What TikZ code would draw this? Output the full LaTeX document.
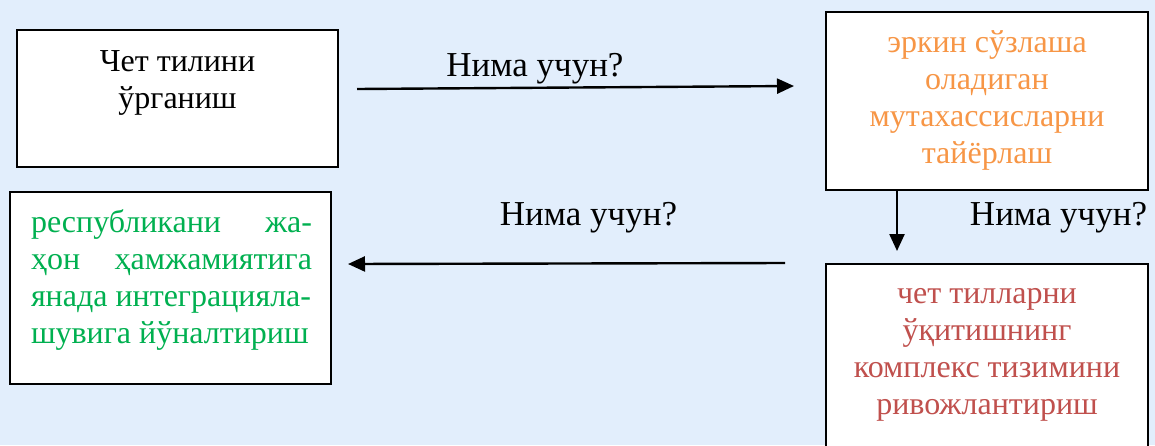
\documentclass[tikz,border=0pt]{standalone}
\usepackage{fontspec}
\setmainfont{Liberation Serif}
\usetikzlibrary{arrows.meta}

\definecolor{bgblue}{RGB}{226, 238, 252}
\definecolor{aimorange}{RGB}{247, 150, 70}
\definecolor{aimgreen}{RGB}{0, 176, 80}
\definecolor{aimred}{RGB}{192, 80, 77}

\newcommand{\boxfont}{\fontsize{32}{37}\selectfont}
\newcommand{\whyfont}{\fontsize{35}{40}\selectfont}

\tikzset{
	box/.style = {draw = black, line width = 2pt, fill = white, inner sep = 0pt},
	boxtext/.style = {anchor = north, align = center, inner sep = 0pt, font = \boxfont},
	why/.style = {anchor = base, inner sep = 0pt, font = \whyfont},
	flow/.style = {line width = 2.4pt, -{Triangle[length = 17pt, width = 15pt]}}
}

\begin{document}
\begin{tikzpicture}[x = 1pt, y = -1pt]

	\useasboundingbox [fill = bgblue] (0, 0) rectangle (1155, 445);
	\clip (0, 0) rectangle (1155, 445);

	% The boxes

	\node [box, minimum width = 321pt, minimum height = 137pt] (learn) at (177.5, 98.5) {};
	\node [box, minimum width = 322pt, minimum height = 178pt] (fluent) at (987, 101) {};
	\node [box, minimum width = 321pt, minimum height = 192pt] (world) at (170.5, 288) {};
	\node [box, minimum width = 322pt, minimum height = 200pt] (system) at (987, 364) {};

	% Texts in the boxes

	\node [boxtext] (learntext) at (177.5, 45.1) {\strut Чет тилини\\ўрганиш};
	\node [boxtext, text = aimorange] (fluenttext) at (987, 26.1) {\strut эркин сўзлаша\\оладиган\\мутахассисларни\\тайёрлаш};
	\node [boxtext, text = aimgreen, align = justify, text width = 281pt] (worldtext) at (171.5, 206.1)
		{\strut республикани\hfill жа-\\ҳон\hfill ҳамжамиятига\\янада интеграцияла-\\шувига йўналтириш};
	\node [boxtext, text = aimred] (systemtext) at (987, 277.1) {\strut чет тилларни\\ўқитишнинг\\комплекс тизимини\\ривожлантириш};

	% The questions

	\node [why] (why1) at (535, 76) {Нима учун?};
	\node [why] (why2) at (588.5, 225) {Нима учун?};
	\node [why] (why3) at (1058.5, 225) {Нима учун?};

	% The arrows

	\draw [flow] ([xshift = 18pt, yshift = 9.5pt] learn.east) -- ([xshift = -31pt, yshift = 15pt] fluent.west);
	\draw [flow] ([xshift = 72pt] fluent.south west) -- ([xshift = 72pt, yshift = 12pt] system.north west);
	\draw [flow] ([xshift = -40pt] system.north west) -- ([xshift = 16pt, yshift = 24pt] world.east);

\end{tikzpicture}
\end{document}
